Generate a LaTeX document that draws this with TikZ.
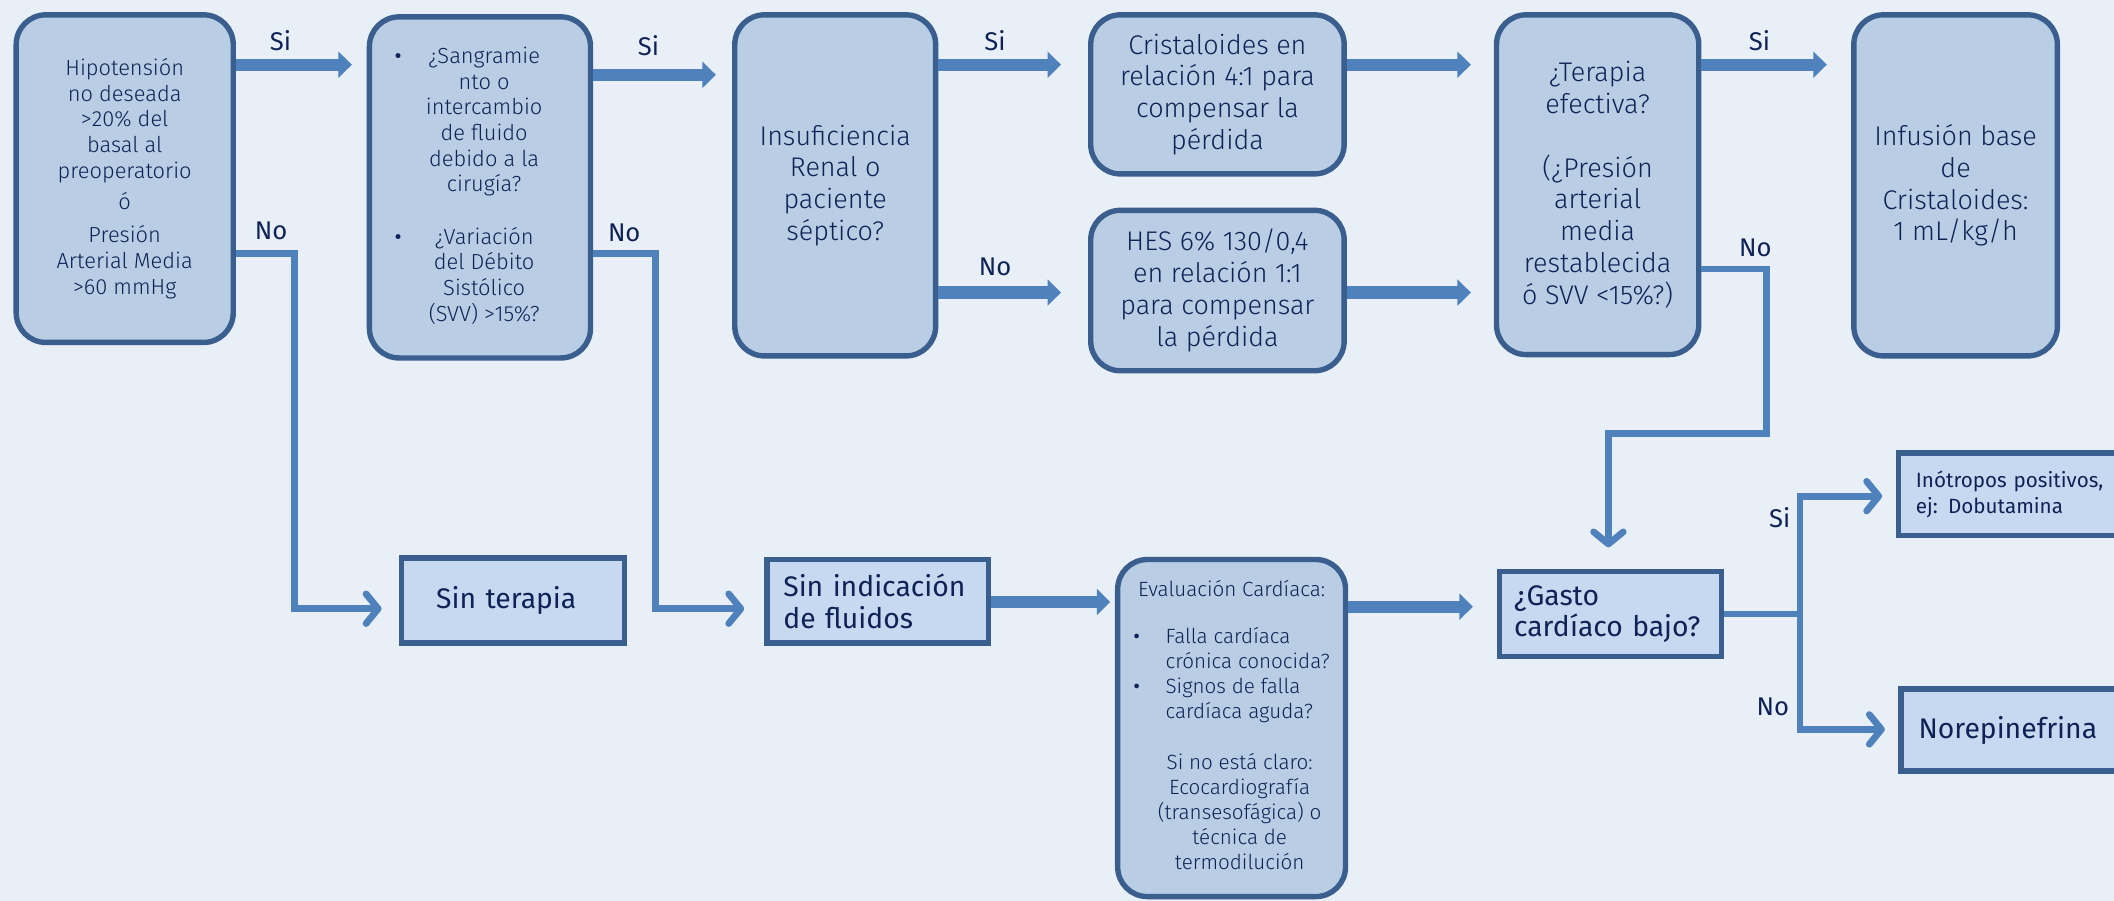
\documentclass[tikz,border=0pt]{standalone}
\usepackage{fontspec}
\setmainfont{Fira Sans}
\IfFontExistsTF{Fira Sans Light}{\newfontfamily\lightfont{Fira Sans Light}}{\newcommand\lightfont{}}
\usetikzlibrary{calc,positioning,arrows.meta}

\definecolor{bgcol}{HTML}{E9EFF7}
\definecolor{roundfill}{HTML}{B9CDE5}
\definecolor{rectfill}{HTML}{C6D9F1}
\definecolor{boxline}{HTML}{3A5F8E}
\definecolor{arrowcol}{HTML}{4F81BD}
\definecolor{txtcol}{HTML}{0E2255}
\newcommand\blt{{\rmfamily\textbullet}}

\begin{document}
\begin{tikzpicture}[x=1pt,y=-1pt]

\tikzset{roundbox/.style={draw=boxline,fill=roundfill,line width=4pt,rounded corners=22pt,align=center,text=txtcol,inner sep=0pt},
rectbox/.style={draw=boxline,fill=rectfill,line width=4pt,align=left,text=txtcol,font=\fontsize{21}{23.5}\selectfont},
smalltxt/.style={font=\lightfont\fontsize{16.2}{19}\selectfont},
bigtxt/.style={font=\lightfont\fontsize{20}{23.6}\selectfont},
evaltxt/.style={font=\lightfont\fontsize{15.3}{18.6}\selectfont},
arrowlabel/.style={text=txtcol,font=\fontsize{19}{22}\selectfont,inner sep=0pt},
bigarrow/.style={draw=arrowcol,line width=9pt,-{Triangle[width=19pt,length=10pt]}},
thinarrow/.style={draw=arrowcol,line width=5pt,-{Straight Barb[length=9pt,width=22pt,round]}}}

% Canvas
\useasboundingbox (0,0) rectangle (1568,668);
\clip (0,0) rectangle (1568,668);
\fill[bgcol] (0,0) rectangle (1568,668);

% Top row
\node (hipo) [roundbox,smalltxt,minimum width=161pt,minimum height=243pt] at (92.5,132.5)
  {Hipotensión\\no deseada\\>20\% del\\basal al\\preoperatorio\\[4pt]ó\\[6pt]Presión\\Arterial Media\\>60 mmHg};
\node (sangrado) [roundbox,smalltxt,minimum width=164pt,minimum height=253pt] at (356,139)
  {\begin{tabular}{@{}l@{\hspace{18pt}}c@{\hspace{17pt}}}
  \blt & ¿Sangramie\\
   & nto o\\
   & intercambio\\
   & de fluido\\
   & debido a la\\
   & cirugía?\\[20pt]
  \blt & ¿Variación\\
   & del Débito\\
   & Sistólico\\
   & (SVV) >15\%?
  \end{tabular}};
\node (renal) [roundbox,bigtxt,minimum width=149pt,minimum height=253pt] at (619.5,137.5)
  {Insuficiencia\\Renal o\\paciente\\séptico?};
\node (cristal) [roundbox,bigtxt,minimum width=188pt,minimum height=118pt] at (903,70)
  {Cristaloides en\\relación 4:1 para\\compensar la\\pérdida};
\node (hes) [roundbox,bigtxt,minimum width=188pt,minimum height=119pt] at (903,215.5)
  {HES 6\% 130/0,4\\en relación 1:1\\para compensar\\la pérdida};
\node (terapia) [roundbox,bigtxt,minimum width=150pt,minimum height=252pt] at (1185,137)
  {¿Terapia\\efectiva?\\[23.6pt](¿Presión\\arterial\\media\\restablecida\\ó SVV <15\%?)};
\node (infusion) [roundbox,bigtxt,minimum width=151pt,minimum height=253pt] at (1450.5,137.5)
  {Infusión base\\de\\Cristaloides:\\1 mL/kg/h};

% Bottom row
\node (sinterapia) [rectbox,minimum height=63pt,inner xsep=25.5pt,text width=114pt] at (380.5,445.5) {Sin terapia};
\node (sinfluidos) [rectbox,minimum height=62pt,inner xsep=12pt,text width=140pt] at (651,446) {Sin indicación\\de fluidos};
\node (evalcard) [roundbox,evaltxt,minimum width=169pt,minimum height=250pt] at (913.5,540)
  {\begin{tabular}{@{}l@{\hspace{19pt}}l@{}}
  \multicolumn{2}{@{}c@{}}{Evaluación Cardíaca:}\\[16pt]
  \blt & Falla cardíaca\\
   & crónica conocida?\\
  \blt & Signos de falla\\
   & cardíaca aguda?\\[19pt]
  \multicolumn{2}{@{\hspace{12pt}}c@{}}{Si no está claro:}\\
  \multicolumn{2}{@{\hspace{12pt}}c@{}}{Ecocardiografía}\\
  \multicolumn{2}{@{\hspace{12pt}}c@{}}{(transesofágica) o}\\
  \multicolumn{2}{@{\hspace{12pt}}c@{}}{técnica de}\\
  \multicolumn{2}{@{\hspace{12pt}}c@{}}{termodilución}
  \end{tabular}};
\node (gasto) [rectbox,minimum height=63pt,inner xsep=11pt,text width=143pt] at (1194.5,455.5) {¿Gasto\\cardíaco bajo?};
\node (inotropos) [rectbox,font=\fontsize{15.3}{19}\selectfont,minimum height=61pt,inner xsep=13pt,text width=160pt] at (1501,366.5)
  {Inótropos positivos,\\ej: Dobutamina};
\node (norepi) [rectbox,minimum height=61pt,inner xsep=13pt,text width=160pt] at (1503,541.5) {Norepinefrina};

% Thick arrows
\foreach \from/\to/\dy/\gap in {hipo/sangrado/39/11, sangrado/renal/45/12, renal/cristal/39/20, renal/hes/208/20,
  cristal/terapia/39/17, hes/terapia/63/17, terapia/infusion/39/18, sinfluidos/evalcard/33.5/3.5, evalcard/gasto/37/17.5}
{
  \coordinate (start) at ($(\from.north east)+(0,\dy)$);
  \draw[bigarrow,shorten >=\gap pt] (start) -- (start -| \to.west);
}

% Elbow connectors
\draw[thinarrow] ($(hipo.north east)+(0,179)$) -- ++(43.5,0) |- ($(sinterapia.west)+(-13,6)$);
\draw[thinarrow] ($(sangrado.north east)+(0,177.5)$) -- ++(46,0) |- ($(sinfluidos.west)+(-15,5.5)$);
\draw[thinarrow] ($(terapia.north east)+(0,190.5)$) -- ++(48.5,0) -- ++(0,122) -| ($(gasto.north)+(-1.5,-16)$);
\draw[thinarrow] (gasto.east) -- ++(56,0) |- ($(inotropos.west)+(-10,1.5)$);
\draw[thinarrow] (gasto.east) -- ++(56,0) |- ($(norepi.west)+(-10,-0.5)$);

% Branch labels
\foreach \n/\x/\y/\lab in {siA/208/30/Si, noA/201/171/No, siB/481/34/Si, noB/463/173/No, siC/738/30/Si, noC/738/198/No,
  siF/1305/30/Si, noF/1302/184/No, siG/1320/384/Si, noG/1315/524/No}
  \node (\n) [arrowlabel] at (\x,\y) {\lab};

\end{tikzpicture}
\end{document}
